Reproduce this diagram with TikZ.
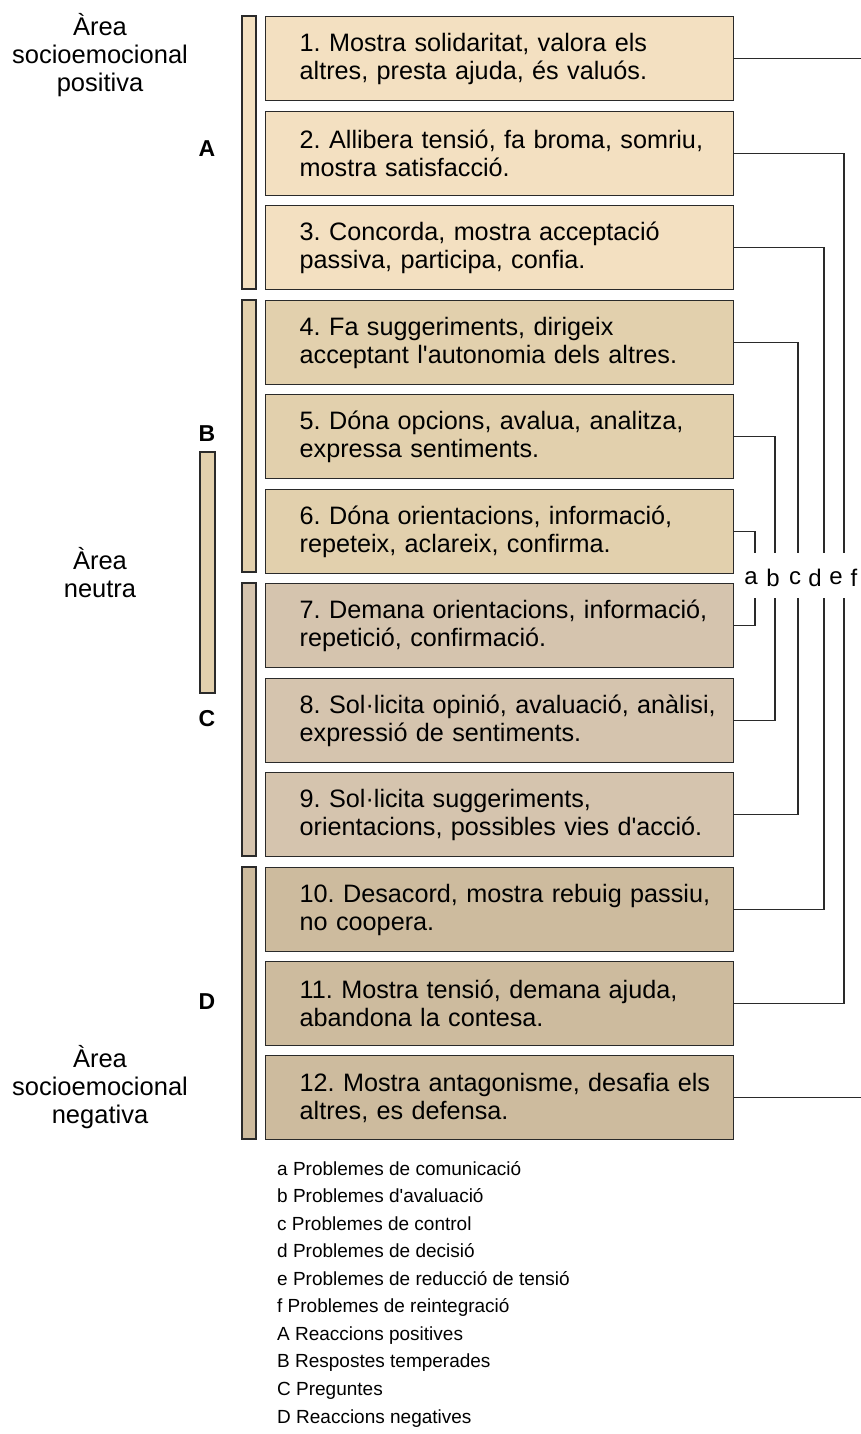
\documentclass[tikz,border=0pt]{standalone}
\usepackage{fontspec}
\setmainfont{Liberation Sans}

\definecolor{posA}{HTML}{F3E0C1}
\definecolor{resB}{HTML}{E2D0AD}
\definecolor{preC}{HTML}{D5C4AE}
\definecolor{negD}{HTML}{CDBB9E}
\definecolor{edge}{HTML}{2A2A2A}

\newcommand\boxindent{\leftskip 34pt\relax}

\begin{document}
\frenchspacing
\begin{tikzpicture}[x=1pt,y=-1pt,
    item/.style={draw=edge,line width=1.4pt,anchor=north west,minimum width=468pt,
      minimum height=84pt,text width=468pt,inner xsep=0pt,align=left,
      execute at begin node=\boxindent,
      font=\fontsize{25.2}{28}\selectfont},
    bar/.style={draw=edge,line width=1.4pt},
    wire/.style={draw=edge,line width=1.3pt},
    area/.style={align=center,font=\fontsize{25.5}{28}\selectfont},
    group/.style={font=\fontsize{23}{28}\selectfont\bfseries},
    prob/.style={font=\fontsize{24}{28}\selectfont,inner sep=0pt},
    key/.style={anchor=base west,inner sep=0pt,font=\fontsize{19}{24}\selectfont}]
    \useasboundingbox (0,0) rectangle (860,1434);

    % Side bars
    \draw [bar,fill=posA] (242,16) rectangle (256,289);
    \draw [bar,fill=resB] (242,300) rectangle (256,572);
    \draw [bar,fill=preC] (242,583) rectangle (256,856);
    \draw [bar,fill=negD] (242,867) rectangle (256,1139);
    \draw [bar,fill=resB] (200,452) rectangle (215,693);

    % Categories
    \node [item,fill=posA] (b1) at (265,16) {1. Mostra solidaritat, valora els\\altres, presta ajuda, és valuós.};
    \node [item,fill=posA] (b2) at (265,111) {2. Allibera tensió, fa broma, somriu,\\mostra satisfacció.};
    \node [item,fill=posA] (b3) at (265,205) {3. Concorda, mostra acceptació\\passiva, participa, confia.};
    \node [item,fill=resB] (b4) at (265,300) {4. Fa suggeriments, dirigeix\\acceptant l\textquotesingle autonomia dels altres.};
    \node [item,fill=resB] (b5) at (265,394) {5. Dóna opcions, avalua, analitza,\\expressa sentiments.};
    \node [item,fill=resB] (b6) at (265,489) {6. Dóna orientacions, informació,\\repeteix, aclareix, confirma.};
    \node [item,fill=preC] (b7) at (265,583) {7. Demana orientacions, informació,\\repetició, confirmació.};
    \node [item,fill=preC] (b8) at (265,678) {8. Sol·licita opinió, avaluació, anàlisi,\\expressió de sentiments.};
    \node [item,fill=preC] (b9) at (265,772) {9. Sol·licita suggeriments,\\orientacions, possibles vies d\textquotesingle acció.};
    \node [item,fill=negD] (b10) at (265,867) {10. Desacord, mostra rebuig passiu,\\no coopera.};
    \node [item,fill=negD] (b11) at (265,961) {11. Mostra tensió, demana ajuda,\\abandona la contesa.};
    \node [item,fill=negD] (b12) at (265,1055) {12. Mostra antagonisme, desafia els\\altres, es defensa.};

    % Group letters
    \node [group] (gA) at (207,149) {A};
    \node [group] (gB) at (207,434) {B};
    \node [group] (gC) at (207,719) {C};
    \node [group] (gD) at (207,1002) {D};

    % Areas
    \node [area] (pos) at (100,55) {Àrea\\socioemocional\\positiva};
    \node [area] (neu) at (100,573) {Àrea\\neutra};
    \node [area] (neg) at (100,1087) {Àrea\\socioemocional\\negativa};

    % Problem letters
    \node [prob] (pa) at (751,578) {a};
    \node [prob] (pb) at (773,578) {b};
    \node [prob] (pc) at (795,578) {c};
    \node [prob] (pd) at (815,578) {d};
    \node [prob] (pe) at (836,578) {e};
    \node [prob] (pf) at (854,578) {f};

    % Line ends at the letters
    \coordinate (a top) at (755,553);
    \coordinate (a bot) at (755,598);
    \coordinate (b top) at (775,553);
    \coordinate (b bot) at (775,598);
    \coordinate (c top) at (798,553);
    \coordinate (c bot) at (798,598);
    \coordinate (d top) at (824,553);
    \coordinate (d bot) at (824,598);
    \coordinate (e top) at (844,553);
    \coordinate (e bot) at (844,598);
    \coordinate (f edge) at (861,0);

    % Pairs
    \draw [wire] (b6.east) -| (a top);
    \draw [wire] (b7.east) -| (a bot);
    \draw [wire] (b5.east) -| (b top);
    \draw [wire] (b8.east) -| (b bot);
    \draw [wire] (b4.east) -| (c top);
    \draw [wire] (b9.east) -| (c bot);
    \draw [wire] (b3.east) -| (d top);
    \draw [wire] (b10.east) -| (d bot);
    \draw [wire] (b2.east) -| (e top);
    \draw [wire] (b11.east) -| (e bot);
    \draw [wire] (b1.east) -- (b1.east -| f edge);
    \draw [wire] (b12.east) -- (b12.east -| f edge);

    % Key
    \node [key] (k1) at (277,1175) {a Problemes de comunicació};
    \node [key] (k2) at (277,1202.6) {b Problemes d\textquotesingle avaluació};
    \node [key] (k3) at (277,1230.1) {c Problemes de control};
    \node [key] (k4) at (277,1257.7) {d Problemes de decisió};
    \node [key] (k5) at (277,1285.2) {e Problemes de reducció de tensió};
    \node [key] (k6) at (277,1312.8) {f Problemes de reintegració};
    \node [key] (k7) at (277,1340.4) {A Reaccions positives};
    \node [key] (k8) at (277,1367.9) {B Respostes temperades};
    \node [key] (k9) at (277,1395.5) {C Preguntes};
    \node [key] (k10) at (277,1423) {D Reaccions negatives};
\end{tikzpicture}
\end{document}
